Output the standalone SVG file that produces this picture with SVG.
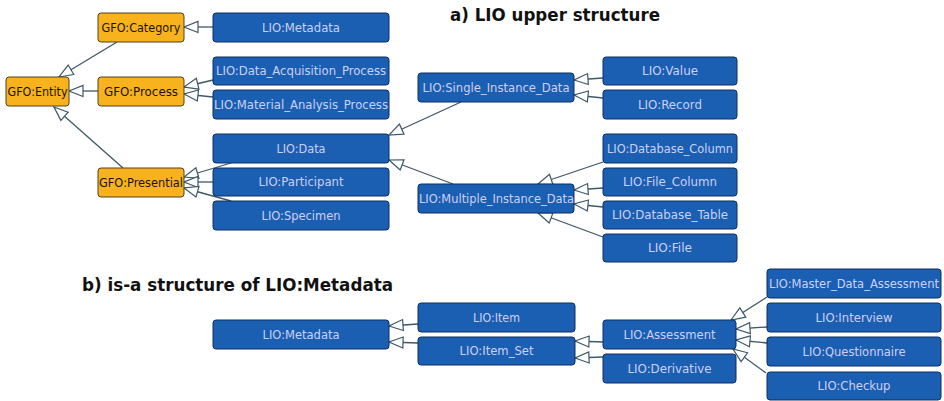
<svg xmlns="http://www.w3.org/2000/svg" width="944" height="401" viewBox="0 0 944 401">
<defs>
<style>
.b rect{fill:#1b5fb3;stroke:#0e2f5e;stroke-width:1}
.o rect{fill:#f7b21e;stroke:#4f4322;stroke-width:1}
.b text{fill:#cdd0f4;font-family:"DejaVu Sans",sans-serif;font-size:11.5px;text-anchor:middle}
.o text{fill:#1a1408;font-family:"DejaVu Sans",sans-serif;font-size:11.5px;text-anchor:middle}
.t{fill:#111;font-family:"DejaVu Sans",sans-serif;font-weight:bold;font-size:18px}
#edges line{stroke:#3d5866;stroke-width:1.3;marker-end:url(#tri)}
</style>
<marker id="tri" markerUnits="userSpaceOnUse" markerWidth="16" markerHeight="14" refX="15" refY="7" orient="auto">
<path d="M1,1.5 L15,7 L1,12.5 Z" fill="#fff" stroke="#3d5866" stroke-width="1.2"/>
</marker>
</defs>
<rect width="944" height="401" fill="#fff"/>
<text class="t" x="450" y="21" textLength="210" lengthAdjust="spacingAndGlyphs">a) LIO upper structure</text>
<text class="t" x="82" y="291" textLength="311" lengthAdjust="spacingAndGlyphs">b) is-a structure of LIO:Metadata</text>

<g id="edges">
<line x1="213" y1="27" x2="184" y2="27"/>
<line x1="117" y1="42" x2="59" y2="77"/>
<line x1="98" y1="91" x2="69" y2="91"/>
<line x1="213" y1="80" x2="184" y2="87"/>
<line x1="213" y1="97" x2="184" y2="94"/>
<line x1="123" y1="168" x2="54" y2="107"/>
<line x1="231" y1="163" x2="184" y2="177"/>
<line x1="213" y1="182" x2="184" y2="182"/>
<line x1="231" y1="201" x2="184" y2="188"/>
<line x1="461" y1="102" x2="389" y2="135"/>
<line x1="453" y1="184" x2="389" y2="160"/>
<line x1="603" y1="78" x2="574" y2="80"/>
<line x1="603" y1="98" x2="574" y2="95"/>
<line x1="603" y1="162" x2="538" y2="184"/>
<line x1="603" y1="188" x2="574" y2="190"/>
<line x1="603" y1="207" x2="574" y2="204"/>
<line x1="603" y1="237" x2="538" y2="213"/>
<line x1="418" y1="324" x2="389" y2="326"/>
<line x1="418" y1="343" x2="389" y2="342"/>
<line x1="603" y1="342" x2="575" y2="341"/>
<line x1="603" y1="357" x2="575" y2="358"/>
<line x1="767" y1="297" x2="731" y2="320"/>
<line x1="767" y1="327" x2="736" y2="329"/>
<line x1="767" y1="343" x2="736" y2="340"/>
<line x1="766" y1="373" x2="733" y2="349"/>
</g>

<g id="gfo-entity" class="o"><rect x="6" y="77" width="63" height="29" rx="3"/><text x="37.5" y="95.5" textLength="60" lengthAdjust="spacingAndGlyphs">GFO:Entity</text></g>
<g id="gfo-category" class="o"><rect x="98" y="13" width="86" height="29" rx="3"/><text x="141" y="31.5" textLength="79" lengthAdjust="spacingAndGlyphs">GFO:Category</text></g>
<g id="gfo-process" class="o"><rect x="98" y="77" width="86" height="29" rx="3"/><text x="141" y="95.5" textLength="74" lengthAdjust="spacingAndGlyphs">GFO:Process</text></g>
<g id="gfo-presential" class="o"><rect x="98" y="168" width="86" height="29" rx="3"/><text x="141" y="186.5" textLength="84" lengthAdjust="spacingAndGlyphs">GFO:Presential</text></g>

<g id="lio-metadata-a" class="b"><rect x="213" y="13" width="176" height="29" rx="3"/><text x="301" y="31.5" textLength="78" lengthAdjust="spacingAndGlyphs">LIO:Metadata</text></g>
<g id="lio-data-acquisition-process" class="b"><rect x="213" y="57" width="176" height="28" rx="3"/><text x="301" y="75" textLength="170" lengthAdjust="spacingAndGlyphs">LIO:Data_Acquisition_Process</text></g>
<g id="lio-material-analysis-process" class="b"><rect x="213" y="90" width="176" height="29" rx="3"/><text x="301" y="108.5" textLength="174" lengthAdjust="spacingAndGlyphs">LIO:Material_Analysis_Process</text></g>
<g id="lio-data" class="b"><rect x="213" y="134" width="176" height="29" rx="3"/><text x="301" y="152.5" textLength="49" lengthAdjust="spacingAndGlyphs">LIO:Data</text></g>
<g id="lio-participant" class="b"><rect x="213" y="168" width="176" height="28" rx="3"/><text x="301" y="186" textLength="85" lengthAdjust="spacingAndGlyphs">LIO:Participant</text></g>
<g id="lio-specimen" class="b"><rect x="213" y="201" width="176" height="29" rx="3"/><text x="301" y="219.5" textLength="79" lengthAdjust="spacingAndGlyphs">LIO:Specimen</text></g>
<g id="lio-single-instance-data" class="b"><rect x="418" y="73" width="156" height="29" rx="3"/><text x="496" y="91.5" textLength="147" lengthAdjust="spacingAndGlyphs">LIO:Single_Instance_Data</text></g>
<g id="lio-multiple-instance-data" class="b"><rect x="418" y="184" width="156" height="29" rx="3"/><text x="496.5" y="202.5" textLength="155" lengthAdjust="spacingAndGlyphs">LIO:Multiple_Instance_Data</text></g>
<g id="lio-value" class="b"><rect x="603" y="57" width="134" height="28" rx="3"/><text x="670" y="75" textLength="56" lengthAdjust="spacingAndGlyphs">LIO:Value</text></g>
<g id="lio-record" class="b"><rect x="603" y="90" width="134" height="29" rx="3"/><text x="670" y="108.5" textLength="64" lengthAdjust="spacingAndGlyphs">LIO:Record</text></g>
<g id="lio-database-column" class="b"><rect x="603" y="134" width="134" height="29" rx="3"/><text x="670" y="152.5" textLength="126" lengthAdjust="spacingAndGlyphs">LIO:Database_Column</text></g>
<g id="lio-file-column" class="b"><rect x="603" y="168" width="134" height="28" rx="3"/><text x="670" y="186" textLength="94" lengthAdjust="spacingAndGlyphs">LIO:File_Column</text></g>
<g id="lio-database-table" class="b"><rect x="603" y="201" width="134" height="28" rx="3"/><text x="670" y="219" textLength="116" lengthAdjust="spacingAndGlyphs">LIO:Database_Table</text></g>
<g id="lio-file" class="b"><rect x="603" y="234" width="134" height="28" rx="3"/><text x="670" y="252" textLength="44" lengthAdjust="spacingAndGlyphs">LIO:File</text></g>

<g id="lio-metadata-b" class="b"><rect x="213" y="320" width="176" height="29" rx="3"/><text x="301" y="338.5" textLength="77" lengthAdjust="spacingAndGlyphs">LIO:Metadata</text></g>
<g id="lio-item" class="b"><rect x="418" y="303" width="157" height="29" rx="3"/><text x="496.5" y="321.5" textLength="47" lengthAdjust="spacingAndGlyphs">LIO:Item</text></g>
<g id="lio-item-set" class="b"><rect x="418" y="337" width="157" height="28" rx="3"/><text x="496.5" y="355" textLength="74" lengthAdjust="spacingAndGlyphs">LIO:Item_Set</text></g>
<g id="lio-assessment" class="b"><rect x="603" y="320" width="133" height="29" rx="3"/><text x="669.5" y="338.5" textLength="92" lengthAdjust="spacingAndGlyphs">LIO:Assessment</text></g>
<g id="lio-derivative" class="b"><rect x="603" y="354" width="133" height="29" rx="3"/><text x="669.5" y="372.5" textLength="84" lengthAdjust="spacingAndGlyphs">LIO:Derivative</text></g>
<g id="lio-master-data-assessment" class="b"><rect x="767" y="269" width="174" height="29" rx="3"/><text x="854" y="287.5" textLength="170" lengthAdjust="spacingAndGlyphs">LIO:Master_Data_Assessment</text></g>
<g id="lio-interview" class="b"><rect x="767" y="303" width="174" height="29" rx="3"/><text x="854" y="321.5" textLength="77" lengthAdjust="spacingAndGlyphs">LIO:Interview</text></g>
<g id="lio-questionnaire" class="b"><rect x="767" y="337" width="174" height="29" rx="3"/><text x="854" y="355.5" textLength="103" lengthAdjust="spacingAndGlyphs">LIO:Questionnaire</text></g>
<g id="lio-checkup" class="b"><rect x="767" y="372" width="174" height="28" rx="3"/><text x="854" y="390" textLength="73" lengthAdjust="spacingAndGlyphs">LIO:Checkup</text></g>
</svg>
